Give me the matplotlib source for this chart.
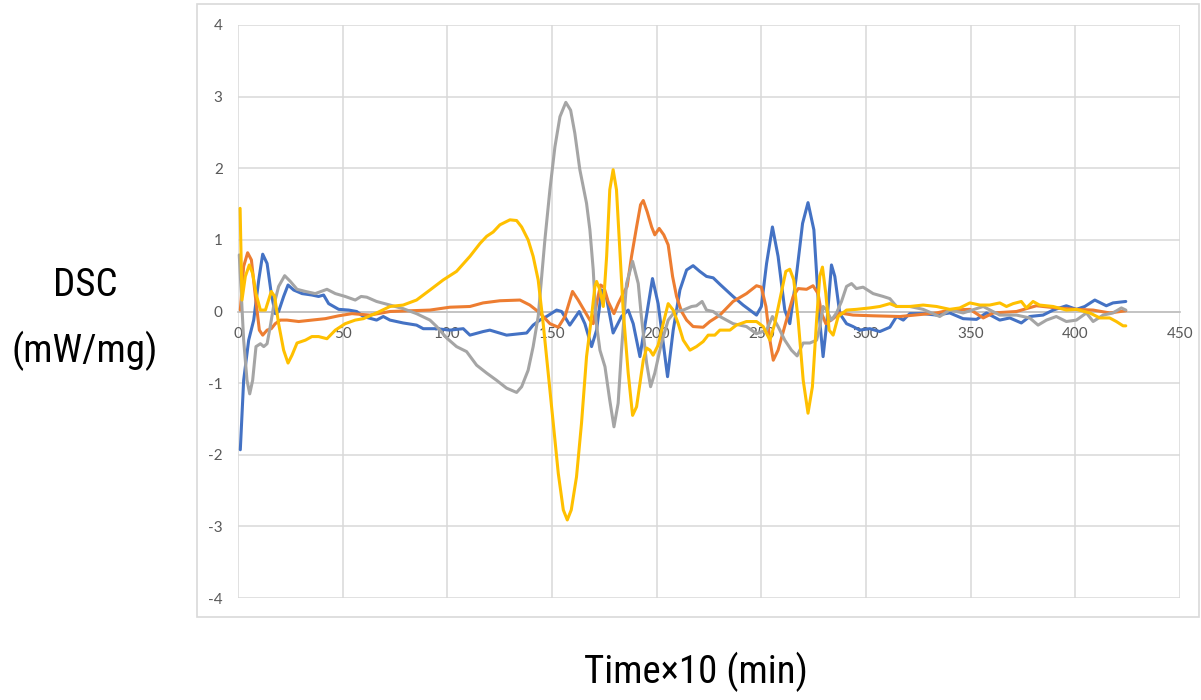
import matplotlib
matplotlib.use("Agg")
import matplotlib.pyplot as plt
from matplotlib import font_manager
from matplotlib.patches import Rectangle

plt.rcParams["axes.unicode_minus"] = False

# DSC traces: (time x10 in min, heat flow in mW/mg)
blue_pts = [
    (1.1, -1.93), (2.7, -0.96), (5.1, -0.40), (7.5, -0.12), (9.9, 0.44), (11.8, 0.80),
    (13.9, 0.67), (15.9, 0.25), (17.8, -0.03), (19.4, 0.0), (21.8, 0.21), (23.9, 0.37),
    (26.6, 0.30), (30.6, 0.25), (35.3, 0.23), (38.5, 0.21), (40.9, 0.23), (43.3, 0.11),
    (48.1, 0.03), (52.9, 0.02), (56.7, 0.0), (59.9, -0.07), (66.2, -0.12), (69.4, -0.07),
    (72.6, -0.12), (78.9, -0.16), (85.3, -0.19), (88.5, -0.24), (94.9, -0.24), (101.2, -0.26),
    (107.6, -0.24), (110.8, -0.33), (117.1, -0.28), (120.3, -0.26), (128.3, -0.33), (137.9, -0.30),
    (141.0, -0.19), (144.2, -0.12), (147.4, -0.07), (152.2, 0.02), (154.6, 0.0), (158.5, -0.19),
    (163.0, 0.0), (165.7, -0.17), (168.9, -0.49), (171.3, -0.26), (173.7, 0.30), (176.1, 0.18),
    (179.2, -0.30), (183.2, -0.07), (186.4, 0.02), (188.8, -0.17), (192.0, -0.63), (194.8, -0.12),
    (198.0, 0.46), (200.7, 0.11), (205.2, -0.91), (207.9, -0.26), (211.1, 0.30), (214.3, 0.58),
    (217.4, 0.64), (220.6, 0.56), (223.8, 0.49), (227.0, 0.47), (230.2, 0.38), (236.5, 0.21),
    (241.3, 0.09), (247.7, -0.05), (250.0, 0.07), (252.5, 0.67), (255.3, 1.18), (258.0, 0.77),
    (261.2, 0.02), (263.6, -0.17), (266.5, 0.44), (269.7, 1.23), (272.3, 1.52), (275.1, 1.14),
    (277.6, -0.03), (279.5, -0.63), (281.4, -0.12), (283.5, 0.65), (285.1, 0.49), (287.5, -0.03),
    (290.7, -0.17), (293.8, -0.21), (297.0, -0.26), (301.8, -0.24), (306.6, -0.28), (311.4, -0.22),
    (314.6, -0.07), (317.8, -0.12), (320.9, -0.03), (327.3, -0.03), (333.7, -0.05), (340.0, -0.02),
    (346.4, -0.10), (352.8, -0.11), (357.5, -0.02), (363.9, -0.12), (368.7, -0.09), (374.2, -0.16),
    (378.2, -0.07), (384.6, -0.05), (389.4, 0.02), (395.7, 0.08), (400.5, 0.03), (404.5, 0.07),
    (409.3, 0.16), (414.8, 0.08), (418.0, 0.12), (424.1, 0.14),
]

orange_pts = [
    (1.1, 0.02), (2.7, 0.63), (4.6, 0.82), (6.4, 0.72), (8.3, 0.21), (10.2, -0.26),
    (11.8, -0.33), (13.9, -0.26), (15.9, -0.24), (17.8, -0.17), (20.2, -0.12), (23.4, -0.12),
    (29.0, -0.14), (35.3, -0.12), (41.7, -0.10), (48.1, -0.06), (54.4, -0.03), (63.0, -0.05),
    (72.6, 0.0), (82.1, 0.01), (91.7, 0.02), (101.2, 0.06), (110.8, 0.07), (117.1, 0.12),
    (125.1, 0.15), (134.7, 0.16), (139.4, 0.09), (144.2, -0.02), (149.0, -0.17), (153.0, -0.22),
    (156.2, -0.07), (159.8, 0.28), (162.5, 0.16), (165.7, 0.0), (168.1, -0.12), (169.7, -0.17),
    (171.3, 0.11), (173.2, 0.37), (174.8, 0.34), (176.8, 0.14), (179.6, -0.03), (181.6, 0.11),
    (184.0, 0.25), (185.9, 0.35), (188.0, 0.77), (190.4, 1.18), (192.3, 1.49), (193.6, 1.55),
    (195.5, 1.39), (197.6, 1.18), (199.1, 1.07), (201.2, 1.16), (203.4, 1.07), (205.5, 0.93),
    (207.6, 0.49), (209.5, 0.21), (211.9, 0.0), (214.3, -0.12), (217.4, -0.21), (222.2, -0.22),
    (225.4, -0.14), (230.2, -0.05), (236.5, 0.14), (242.9, 0.25), (247.7, 0.36), (250.0, 0.34),
    (252.2, 0.07), (254.1, -0.40), (255.7, -0.68), (258.0, -0.54), (262.0, -0.12), (265.2, 0.21),
    (267.6, 0.32), (271.6, 0.31), (274.7, 0.36), (277.1, 0.25), (278.7, -0.02), (280.8, -0.17),
    (284.3, -0.10), (287.5, -0.02), (293.8, -0.05), (303.4, -0.06), (316.2, -0.07), (333.7, -0.02),
    (340.0, 0.02), (349.6, 0.03), (356.0, -0.09), (360.8, -0.02), (371.9, 0.0), (381.4, 0.08),
    (391.0, 0.05), (400.5, 0.03), (408.5, 0.02), (416.4, -0.02), (424.1, 0.01),
]

gray_pts = [
    (0.6, 0.79), (2.7, -0.40), (4.3, -0.96), (5.6, -1.15), (7.0, -0.96), (8.6, -0.49),
    (10.7, -0.45), (12.3, -0.49), (13.9, -0.45), (15.4, -0.21), (17.0, 0.07), (19.4, 0.35),
    (22.3, 0.50), (25.0, 0.42), (28.2, 0.31), (32.2, 0.28), (36.9, 0.25), (42.5, 0.31),
    (46.5, 0.25), (51.2, 0.21), (56.0, 0.16), (58.8, 0.21), (61.5, 0.20), (66.2, 0.14),
    (72.6, 0.09), (78.9, 0.04), (85.3, -0.03), (91.7, -0.12), (94.9, -0.21), (99.7, -0.37),
    (104.4, -0.49), (109.2, -0.56), (114.0, -0.75), (118.8, -0.86), (123.5, -0.96), (128.3, -1.07),
    (133.1, -1.13), (135.5, -1.05), (138.6, -0.82), (141.0, -0.49), (143.4, -0.07), (146.6, 1.0),
    (149.0, 1.70), (151.4, 2.30), (153.8, 2.72), (156.6, 2.92), (158.9, 2.81), (160.9, 2.49),
    (163.3, 1.98), (164.6, 1.79), (166.5, 1.51), (168.1, 1.14), (169.7, 0.58), (171.0, -0.12),
    (172.9, -0.54), (175.3, -0.77), (177.6, -1.24), (179.6, -1.61), (181.6, -1.28), (183.2, -0.54),
    (185.6, 0.39), (188.5, 0.70), (191.2, 0.39), (192.7, -0.07), (195.2, -0.72), (197.1, -1.05),
    (199.1, -0.86), (202.3, -0.44), (205.5, -0.12), (208.7, 0.0), (212.7, 0.02), (216.7, 0.07),
    (219.0, 0.08), (221.7, 0.14), (223.8, 0.02), (227.0, 0.0), (230.2, -0.07), (236.5, -0.17),
    (242.9, -0.21), (247.7, -0.31), (252.5, -0.26), (255.3, -0.07), (258.0, -0.21), (261.2, -0.40),
    (264.4, -0.54), (267.1, -0.62), (270.0, -0.44), (273.2, -0.44), (276.4, -0.40), (278.0, -0.21),
    (279.5, 0.07), (281.1, 0.02), (283.5, -0.12), (285.9, -0.02), (288.3, 0.14), (290.7, 0.35),
    (293.1, 0.39), (295.4, 0.32), (298.6, 0.34), (303.4, 0.25), (308.2, 0.21), (311.4, 0.18),
    (314.6, 0.07), (320.9, 0.07), (327.3, 0.03), (335.2, -0.07), (340.0, 0.02), (346.4, -0.02),
    (356.0, 0.07), (363.9, -0.05), (371.9, -0.05), (378.2, -0.09), (382.2, -0.19), (386.2, -0.12),
    (390.9, -0.07), (395.7, -0.14), (400.5, -0.12), (405.3, -0.02), (408.5, -0.14), (413.3, -0.05),
    (418.0, -0.02), (422.0, 0.05), (424.1, 0.02),
]

yellow_pts = [
    (1.0, 1.44), (1.9, 0.16), (3.5, 0.49), (5.4, 0.65), (7.0, 0.53), (8.6, 0.25),
    (10.7, 0.02), (13.1, 0.02), (14.6, 0.16), (15.9, 0.28), (17.5, 0.21), (19.4, -0.17),
    (21.8, -0.54), (23.9, -0.72), (25.8, -0.61), (28.2, -0.44), (32.2, -0.40), (35.3, -0.35),
    (38.5, -0.35), (42.5, -0.38), (46.5, -0.26), (51.2, -0.17), (56.0, -0.12), (59.9, -0.10),
    (66.2, -0.02), (72.6, 0.07), (78.9, 0.09), (85.3, 0.16), (91.7, 0.30), (98.0, 0.44),
    (104.4, 0.56), (110.8, 0.77), (115.6, 0.95), (118.8, 1.05), (121.9, 1.11), (125.1, 1.21),
    (129.9, 1.28), (133.1, 1.27), (135.5, 1.18), (138.6, 1.0), (141.0, 0.77), (143.4, 0.44),
    (145.8, -0.17), (148.2, -0.86), (150.6, -1.56), (153.0, -2.26), (155.4, -2.77), (157.3, -2.91),
    (159.2, -2.77), (161.7, -2.31), (164.1, -1.56), (166.5, -0.63), (168.9, -0.07), (170.5, 0.35),
    (171.3, 0.42), (172.9, 0.30), (174.5, 0.07), (176.1, 0.77), (177.6, 1.70), (179.2, 1.98),
    (180.8, 1.70), (182.4, 0.86), (184.0, 0.02), (186.4, -0.86), (188.5, -1.45), (190.4, -1.33),
    (192.0, -1.0), (193.6, -0.68), (195.2, -0.51), (196.8, -0.54), (198.3, -0.61), (200.7, -0.47),
    (203.1, -0.17), (205.5, 0.11), (207.9, 0.02), (210.3, -0.17), (212.7, -0.40), (215.9, -0.54),
    (219.0, -0.49), (222.2, -0.42), (224.6, -0.33), (227.8, -0.33), (230.2, -0.26), (235.0, -0.26),
    (238.1, -0.19), (242.9, -0.14), (247.7, -0.14), (250.9, -0.21), (254.1, -0.40), (256.4, -0.17),
    (259.8, 0.30), (261.7, 0.56), (263.6, 0.59), (265.5, 0.44), (267.6, -0.12), (270.0, -0.96),
    (272.3, -1.42), (274.4, -1.05), (276.4, -0.12), (277.9, 0.49), (279.2, 0.62), (280.8, 0.25),
    (282.4, -0.26), (284.3, -0.33), (286.7, -0.07), (290.7, 0.02), (295.4, 0.03), (301.8, 0.05),
    (306.6, 0.07), (311.4, 0.11), (314.6, 0.07), (320.9, 0.07), (327.3, 0.09), (333.7, 0.07),
    (340.0, 0.03), (344.8, 0.05), (349.6, 0.12), (354.4, 0.09), (359.1, 0.09), (363.9, 0.12),
    (367.1, 0.07), (370.3, 0.11), (374.2, 0.14), (376.6, 0.05), (379.8, 0.14), (382.9, 0.09),
    (389.4, 0.07), (395.7, 0.02), (400.5, 0.03), (406.9, -0.02), (411.7, -0.09), (416.4, -0.09),
    (419.6, -0.14), (422.8, -0.20), (424.1, -0.20),
]

x_ticks = [0, 50, 100, 150, 200, 250, 300, 350, 400, 450]
y_ticks = [-4, -3, -2, -1, 0, 1, 2, 3, 4]
x_title = "Time×10 (min)"
y_title = "DSC\n(mW/mg)"

series = [
    (blue_pts, "#4472C4"),
    (orange_pts, "#ED7D31"),
    (gray_pts, "#A5A5A5"),
    (yellow_pts, "#FFC000"),
]

available = {f.name for f in font_manager.fontManager.ttflist}


def pick(*names):
    for n in names:
        if n in available:
            return n
    return "DejaVu Sans"


title_font = pick("Roboto Condensed", "Liberation Sans Narrow", "Open Sans Condensed", "DejaVu Sans")
tick_font = pick("Lato", "Open Sans", "DejaVu Sans")

W, H = 1201, 700
fig = plt.figure(figsize=(W / 100, H / 100), dpi=100)

# chart-area border
fig.add_artist(Rectangle((197 / W, 1 - 617 / H), (1199 - 197) / W, (617 - 4) / H,
                         transform=fig.transFigure, fill=False, ec="#D9D9D9", lw=1.2))

ax = fig.add_axes([238 / W, 1 - 598 / H, (1180 - 238) / W, (598 - 25) / H])
ax.set_xlim(0, 450)
ax.set_ylim(-4, 4)
ax.set_xticks(x_ticks)
ax.set_yticks(y_ticks)
ax.grid(True, color="#D9D9D9", lw=1.1, zorder=0)
ax.set_axisbelow(True)

for side in ("top", "right", "left"):
    ax.spines[side].set_visible(False)
ax.spines["bottom"].set_position(("data", 0))
ax.spines["bottom"].set_color("#BFBFBF")
ax.spines["bottom"].set_linewidth(1.2)

ax.tick_params(axis="x", length=0, pad=11, labelsize=11, labelcolor="#595959")
ax.tick_params(axis="y", length=0, pad=11, labelsize=11, labelcolor="#595959")
for lab in ax.get_xticklabels() + ax.get_yticklabels():
    lab.set_family(tick_font)

for pts, color in series:
    xs = [p[0] for p in pts]
    ys = [p[1] for p in pts]
    ax.plot(xs, ys, color=color, lw=2.2, solid_joinstyle="round", solid_capstyle="round",
            zorder=3, clip_on=False)

fig.text(85 / W, 1 - 319 / H, y_title, ha="center", va="center", fontsize=28,
         family=title_font, linespacing=1.85, color="black")
fig.text(696 / W, 1 - 672 / H, x_title, ha="center", va="center", fontsize=28,
         family=title_font, color="black")

fig.savefig("out.png", dpi=100)
